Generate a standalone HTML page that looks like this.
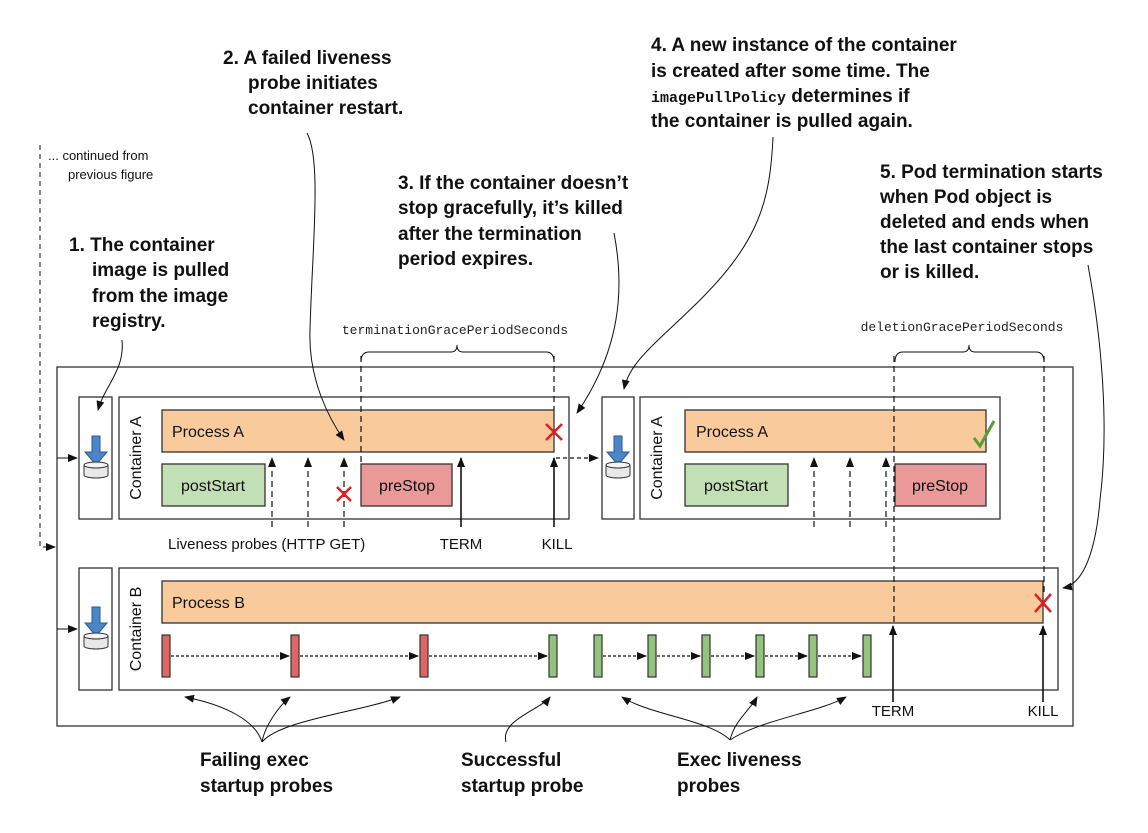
<!DOCTYPE html>
<html><head><meta charset="utf-8"><style>
html,body{margin:0;padding:0;background:#fff;}
svg{display:block;}
.lb{font-family:"Liberation Sans Narrow","Liberation Sans",sans-serif;font-weight:bold;font-size:19px;fill:#111;}
.n{font-family:"Liberation Sans",sans-serif;font-size:15px;fill:#111;}
.m{font-family:"Liberation Mono",monospace;font-size:13px;fill:#222;}
</style></head><body>
<svg width="1148" height="833" viewBox="0 0 1148 833" xmlns="http://www.w3.org/2000/svg">
<defs>
<marker id="a" markerWidth="10" markerHeight="8" refX="9" refY="4" orient="auto" markerUnits="userSpaceOnUse"><path d="M0,0 L10,4 L0,8 Z" fill="#111"/></marker>
<g id="icon"><path d="M-4,-22 h8 v16 h7 l-11,13 l-11,-13 h7 z" fill="#4a86c8" stroke="#2a5a90" stroke-width="1"/><path d="M-12,7 v10 a12,3 0 0 0 24,0 v-10" fill="#e8e8e8" stroke="#333" stroke-width="1"/><ellipse cx="0" cy="7" rx="12" ry="3" fill="#f4f4f4" stroke="#333" stroke-width="1"/></g>
</defs>
<!-- labels -->
<text class="lb"><tspan x="223" y="64">2. A failed liveness</tspan><tspan x="248" y="89">probe initiates</tspan><tspan x="248" y="114">container restart.</tspan></text>
<text class="n" style="font-size:13px"><tspan x="48" y="160">... continued from</tspan><tspan x="68" y="179">previous figure</tspan></text>
<text class="lb"><tspan x="69" y="251">1. The container</tspan><tspan x="92" y="276">image is pulled</tspan><tspan x="92" y="302">from the image</tspan><tspan x="92" y="327">registry.</tspan></text>
<text class="lb"><tspan x="398" y="189">3. If the container doesn’t</tspan><tspan x="398" y="214">stop gracefully, it’s killed</tspan><tspan x="398" y="240">after the termination</tspan><tspan x="398" y="265">period expires.</tspan></text>
<text class="lb"><tspan x="651" y="51">4. A new instance of the container</tspan><tspan x="651" y="77">is created after some time. The</tspan><tspan x="651" y="102"><tspan style="font-family:'Liberation Mono',monospace;font-size:15px">imagePullPolicy</tspan> determines if</tspan><tspan x="651" y="127">the container is pulled again.</tspan></text>
<text class="lb"><tspan x="880" y="178">5. Pod termination starts</tspan><tspan x="880" y="203">when Pod object is</tspan><tspan x="880" y="228">deleted and ends when</tspan><tspan x="880" y="253">the last container stops</tspan><tspan x="880" y="278">or is killed.</tspan></text>
<text class="lb"><tspan x="200" y="766">Failing exec</tspan><tspan x="200" y="792">startup probes</tspan></text>
<text class="lb"><tspan x="461" y="766">Successful</tspan><tspan x="461" y="792">startup probe</tspan></text>
<text class="lb"><tspan x="677" y="766">Exec liveness</tspan><tspan x="677" y="792">probes</tspan></text>
<!-- continued dashed -->
<path d="M40,145 V547 H55" fill="none" stroke="#111" stroke-dasharray="5,4" marker-end="url(#a)"/>
<!-- outer box -->
<rect x="57" y="367" width="1016" height="359" fill="none" stroke="#333" stroke-width="1.3"/>
<!-- braces -->
<text class="m" x="455" y="334" text-anchor="middle">terminationGracePeriodSeconds</text>
<path d="M361,362 Q361,352 369,352 H451 Q457,352 457,345 Q457,352 463,352 H546 Q554,352 554,362" fill="none" stroke="#111"/>
<text class="m" x="962" y="331" text-anchor="middle">deletionGracePeriodSeconds</text>
<path d="M895,362 Q895,352 903,352 H963 Q969,352 969,345 Q969,352 975,352 H1036 Q1044,352 1044,362" fill="none" stroke="#111"/>
<!-- Container A row 1 -->
<path d="M57,458 H77" stroke="#111" marker-end="url(#a)"/>
<rect x="79" y="397" width="33" height="122" fill="#fff" stroke="#333" stroke-width="1.3"/>
<use href="#icon" x="96" y="458"/>
<rect x="119" y="397" width="450" height="122" fill="#fff" stroke="#333" stroke-width="1.3"/>
<text class="n" transform="translate(141,458) rotate(-90)" text-anchor="middle" style="font-size:16px">Container A</text>
<rect x="162" y="410" width="392" height="42" fill="#f9cb9c" stroke="#333" stroke-width="1.3"/>
<text class="n" x="172" y="437" style="font-size:16px">Process A</text>
<rect x="162" y="464" width="103" height="42" fill="#c3dfb6" stroke="#333" stroke-width="1.3"/>
<text class="n" x="213" y="491" text-anchor="middle" style="font-size:16px">postStart</text>
<rect x="361" y="464" width="91" height="42" fill="#ea9999" stroke="#333" stroke-width="1.3"/>
<text class="n" x="407" y="491" text-anchor="middle" style="font-size:16px">preStop</text>
<g stroke="#111" stroke-width="1.2" fill="none">
<path d="M272,527 V458" stroke-dasharray="6,4" marker-end="url(#a)"/>
<path d="M308,527 V458" stroke-dasharray="6,4" marker-end="url(#a)"/>
<path d="M344,527 V458" stroke-dasharray="6,4" marker-end="url(#a)"/>
<path d="M361,356 V464" stroke-dasharray="6,4"/>
<path d="M554,356 V410" stroke-dasharray="6,4"/>
<path d="M461,527 V458" stroke-width="1.6" marker-end="url(#a)"/>
<path d="M554,527 V458" stroke-width="1.6" marker-end="url(#a)"/>
<path d="M556,458 H598" stroke-dasharray="4,3" marker-end="url(#a)"/>
</g>
<g stroke="#e02020" stroke-width="2.5"><path d="M337,487 L351,501 M351,487 L337,501"/><path d="M546,424 L562,440 M562,424 L546,440"/></g>
<text class="n" x="168" y="549">Liveness probes (HTTP GET)</text>
<text class="n" x="461" y="549" text-anchor="middle">TERM</text>
<text class="n" x="557" y="549" text-anchor="middle">KILL</text>
<!-- Container A row 2 -->
<rect x="602" y="397" width="32" height="122" fill="#fff" stroke="#333" stroke-width="1.3"/>
<use href="#icon" x="618" y="458"/>
<rect x="640" y="397" width="360" height="122" fill="#fff" stroke="#333" stroke-width="1.3"/>
<text class="n" transform="translate(662,458) rotate(-90)" text-anchor="middle" style="font-size:16px">Container A</text>
<rect x="685" y="410" width="301" height="42" fill="#f9cb9c" stroke="#333" stroke-width="1.3"/>
<text class="n" x="696" y="437" style="font-size:16px">Process A</text>
<rect x="685" y="464" width="103" height="42" fill="#c3dfb6" stroke="#333" stroke-width="1.3"/>
<text class="n" x="736" y="491" text-anchor="middle" style="font-size:16px">postStart</text>
<rect x="895" y="464" width="91" height="42" fill="#ea9999" stroke="#333" stroke-width="1.3"/>
<text class="n" x="940" y="491" text-anchor="middle" style="font-size:16px">preStop</text>
<path d="M974,438 L980,446 L994,421" fill="none" stroke="#5a9a3a" stroke-width="3"/>
<g stroke="#111" stroke-width="1.2" fill="none">
<path d="M814,527 V458" stroke-dasharray="6,4" marker-end="url(#a)"/>
<path d="M850,527 V458" stroke-dasharray="6,4" marker-end="url(#a)"/>
<path d="M886,527 V458" stroke-dasharray="6,4" marker-end="url(#a)"/>
</g>
<!-- Container B -->
<path d="M57,629 H77" stroke="#111" marker-end="url(#a)"/>
<rect x="79" y="568" width="33" height="122" fill="#fff" stroke="#333" stroke-width="1.3"/>
<use href="#icon" x="96" y="629"/>
<rect x="119" y="568" width="939" height="122" fill="#fff" stroke="#333" stroke-width="1.3"/>
<text class="n" transform="translate(141,629) rotate(-90)" text-anchor="middle" style="font-size:16px">Container B</text>
<rect x="162" y="581" width="881" height="42" fill="#f9cb9c" stroke="#333" stroke-width="1.3"/>
<text class="n" x="172" y="608" style="font-size:16px">Process B</text>
<g stroke="#111" stroke-width="1.2" fill="none">
<path d="M894,356 V623" stroke-dasharray="6,4"/>
<path d="M1044,356 V596" stroke-dasharray="6,4"/>
<path d="M893,702 V626" stroke-width="1.6" marker-end="url(#a)"/>
<path d="M1043,702 V626" stroke-width="1.6" marker-end="url(#a)"/>
<path d="M171,656 H289" stroke-dasharray="3,2" marker-end="url(#a)"/>
<path d="M300,656 H418" stroke-dasharray="3,2" marker-end="url(#a)"/>
<path d="M429,656 H547" stroke-dasharray="3,2" marker-end="url(#a)"/>
<path d="M603,656 H646" stroke-dasharray="3,2" marker-end="url(#a)"/>
<path d="M657,656 H700" stroke-dasharray="3,2" marker-end="url(#a)"/>
<path d="M711,656 H754" stroke-dasharray="3,2" marker-end="url(#a)"/>
<path d="M765,656 H807" stroke-dasharray="3,2" marker-end="url(#a)"/>
<path d="M818,656 H861" stroke-dasharray="3,2" marker-end="url(#a)"/>
</g>
<g stroke="#333" stroke-width="1.2">
<rect x="162" y="635" width="8" height="42" fill="#e06666"/>
<rect x="291" y="635" width="8" height="42" fill="#e06666"/>
<rect x="420" y="635" width="8" height="42" fill="#e06666"/>
<rect x="549" y="635" width="8" height="42" fill="#93c47d"/>
<rect x="594" y="635" width="8" height="42" fill="#93c47d"/>
<rect x="648" y="635" width="8" height="42" fill="#93c47d"/>
<rect x="702" y="635" width="8" height="42" fill="#93c47d"/>
<rect x="756" y="635" width="8" height="42" fill="#93c47d"/>
<rect x="809" y="635" width="8" height="42" fill="#93c47d"/>
<rect x="863" y="635" width="8" height="42" fill="#93c47d"/>
</g>
<path d="M1035,594 L1051,612 M1051,594 L1035,612" stroke="#e02020" stroke-width="2.5"/>
<text class="n" x="893" y="716" text-anchor="middle">TERM</text>
<text class="n" x="1043" y="716" text-anchor="middle">KILL</text>
<!-- callout curves (on top) -->
<g fill="none" stroke="#111" stroke-width="1">
<path d="M307,133 C322,160 312,250 310,330 C308,380 330,420 344,440" marker-end="url(#a)"/>
<path d="M122,340 C125,370 105,385 98,410" marker-end="url(#a)"/>
<path d="M614,233 C625,290 620,350 577,413" marker-end="url(#a)"/>
<path d="M773,137 C770,200 760,240 700,300 C660,340 630,360 624,389" marker-end="url(#a)"/>
<path d="M1088,265 C1100,330 1110,420 1100,500 C1095,560 1080,585 1063,588" marker-end="url(#a)"/>
<path d="M262,742 C255,720 225,705 185,697" marker-end="url(#a)"/>
<path d="M262,742 C265,725 280,705 290,697" marker-end="url(#a)"/>
<path d="M262,742 C280,720 360,712 400,697" marker-end="url(#a)"/>
<path d="M506,742 C500,720 540,710 550,697" marker-end="url(#a)"/>
<path d="M730,740 C710,720 650,715 622,697" marker-end="url(#a)"/>
<path d="M730,740 C735,720 750,710 757,697" marker-end="url(#a)"/>
<path d="M730,740 C760,720 820,712 846,697" marker-end="url(#a)"/>
</g>
</svg>
</body></html>
